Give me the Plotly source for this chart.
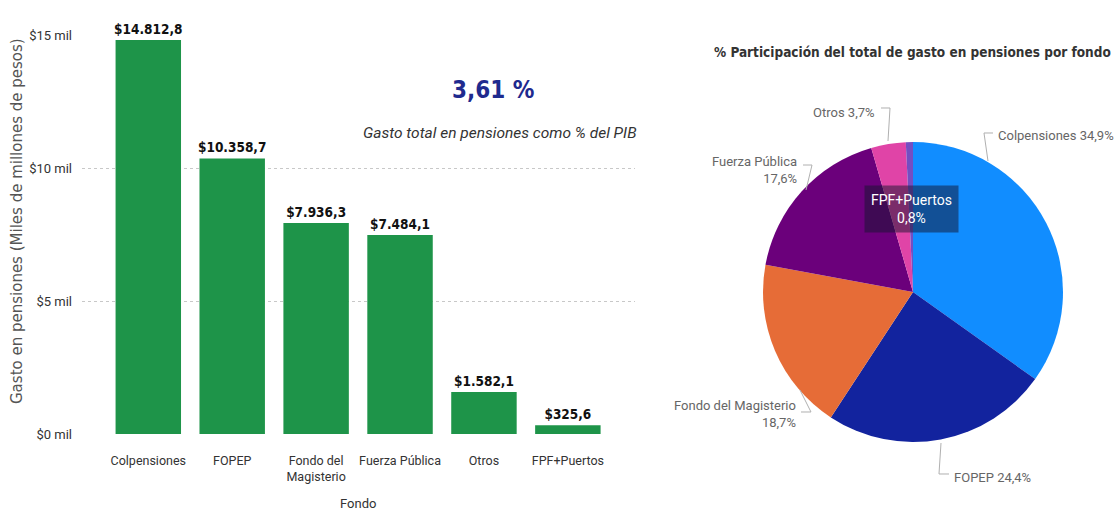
import plotly.graph_objects as go

# ---- data ----
fondos = ["Colpensiones", "FOPEP", "Fondo del Magisterio", "Fuerza Pública", "Otros", "FPF+Puertos"]
fondo_tick_labels = ["Colpensiones", "FOPEP", "Fondo del<br>Magisterio", "Fuerza Pública", "Otros", "FPF+Puertos"]
gasto = [14812.8, 10358.7, 7936.3, 7484.1, 1582.1, 325.6]
y_tick_vals = [0, 5000, 10000, 15000]
y_tick_text = ["$0 mil", "$5 mil", "$10 mil", "$15 mil"]
pct_pib = 3.61
pie_colors = ["#118DFF", "#12239E", "#E66C37", "#6B007B", "#E044A7", "#744EC2"]

W, H = 1117, 511
BOLDC = "DejaVu Sans Condensed, DejaVu Sans, sans-serif"
UI = "Roboto, sans-serif"

def fmt_money(v):
    s = f"{v:,.1f}"
    s = s.replace(",", "X").replace(".", ",").replace("X", ".")
    return "$" + s

def fmt_pct(v):
    return f"{v:.1f}".replace(".", ",") + "%"

def px(x):
    return x / W

def py(y):
    return 1 - y / H

total = sum(gasto)
pcts = [100 * g / total for g in gasto]

fig = go.Figure()

fig.add_trace(go.Bar(
    x=fondo_tick_labels, y=gasto,
    marker=dict(color="#1E9449", line=dict(width=0)),
    text=[fmt_money(v) for v in gasto],
    textposition="outside",
    constraintext="none",
    textfont=dict(family=BOLDC, size=13.5, color="#111111", weight="bold"),
    cliponaxis=False,
    xaxis="x", yaxis="y",
    showlegend=False, hoverinfo="skip",
))

fig.add_trace(go.Pie(
    labels=fondos, values=gasto,
    marker=dict(colors=pie_colors, line=dict(width=0)),
    sort=False, direction="clockwise", rotation=0,
    textinfo="none",
    domain=dict(x=[px(763), px(1063)], y=[py(442), py(142)]),
    showlegend=False, hoverinfo="skip",
))

fig.update_layout(
    width=W, height=H,
    margin=dict(l=0, r=0, t=0, b=0),
    paper_bgcolor="white", plot_bgcolor="white",
    bargap=0.22,
    xaxis=dict(
        domain=[px(82), px(635)],
        range=[-0.79, 5.8],
        showgrid=False, zeroline=False, showline=False,
        tickfont=dict(family=UI, size=12.5, color="#333333"),
        ticks="", ticklabelstandoff=17,
        automargin=False,
    ),
    yaxis=dict(
        domain=[py(434), py(35)],
        range=[0, 15000],
        tickvals=y_tick_vals, ticktext=y_tick_text,
        tickfont=dict(family=UI, size=13, color="#333333"),
        showgrid=True, gridcolor="#C8C8C8", griddash="dot", gridwidth=1,
        zeroline=False, showline=False, ticks="", ticklabelstandoff=9,
        automargin=False,
    ),
)

# x-axis title
fig.add_annotation(
    text="Fondo", xref="paper", yref="paper", x=px(358), y=py(503),
    xanchor="center", yanchor="middle", showarrow=False,
    font=dict(family=UI, size=13, color="#333333"),
)

# y-axis title
fig.add_annotation(
    text="Gasto en pensiones (Miles de millones de pesos)",
    xref="paper", yref="paper", x=px(17), y=py(221),
    xanchor="center", yanchor="middle",
    textangle=-90, showarrow=False,
    font=dict(family="DejaVu Sans", size=15, color="#555555"),
)

# KPI card
fig.add_annotation(
    text=("%.2f" % pct_pib).replace(".", ",") + " %",
    xref="paper", yref="paper", x=px(493), y=py(90),
    xanchor="center", yanchor="middle",
    showarrow=False,
    font=dict(family=BOLDC, size=24, color="#1F2A8E", weight="bold"),
)
fig.add_annotation(
    text="<i>Gasto total en pensiones como % del PIB</i>",
    xref="paper", yref="paper", x=px(500), y=py(133),
    xanchor="center", yanchor="middle",
    showarrow=False,
    font=dict(family=UI, size=15.5, color="#333333"),
)

# pie title
fig.add_annotation(
    text="% Participación del total de gasto en pensiones por fondo",
    xref="paper", yref="paper", x=px(912), y=py(52),
    xanchor="center", yanchor="middle",
    showarrow=False,
    font=dict(family=BOLDC, size=13.5, color="#333333", weight="bold"),
)

# pie labels
lab_font = dict(family=UI, size=13, color="#666666")
pie_labels = [
    # (text, x, y, xanchor)
    (f"{fondos[0]} {fmt_pct(pcts[0])}", 996, 135, "left"),
    (f"{fondos[1]} {fmt_pct(pcts[1])}", 952, 477, "left"),
    (f"{fondos[2]}<br>{fmt_pct(pcts[2])}", 798, 414, "right"),
    (f"{fondos[3]}<br>{fmt_pct(pcts[3])}", 799, 170, "right"),
    (f"{fondos[4]} {fmt_pct(pcts[4])}", 877, 112, "right"),
]
for txt, x, y, xa in pie_labels:
    fig.add_annotation(text=txt, xref="paper", yref="paper", x=px(x), y=py(y),
                       xanchor=xa, yanchor="middle", align="right" if xa == "right" else "left",
                       showarrow=False, font=lab_font)

# leader lines
leaders = [
    [(993, 133), (984, 133), (988, 161)],
    [(949, 474), (939, 474), (941, 443)],
    [(801, 412), (811, 412), (800, 390)],
    [(803, 165), (812, 165), (806, 190)],
    [(881, 108), (890, 108), (888, 141)],
]
for pts in leaders:
    path = "M " + " L ".join(f"{px(a):.5f},{py(b):.5f}" for a, b in pts)
    fig.add_shape(type="path", path=path, xref="paper", yref="paper",
                  line=dict(color="#B0B0B0", width=1))

# FPF+Puertos inside label
fig.add_annotation(
    text=f"{fondos[5]}<br>{fmt_pct(pcts[5])}",
    xref="paper", yref="paper", x=px(911), y=py(209),
    xanchor="center", yanchor="middle",
    showarrow=False, align="center",
    bgcolor="rgba(20,20,45,0.5)", borderpad=6,
    font=dict(family=UI, size=14, color="white"),
)

fig.write_html("out.html", config={"displayModeBar": False},
               post_script="document.body.style.margin='0px';")
